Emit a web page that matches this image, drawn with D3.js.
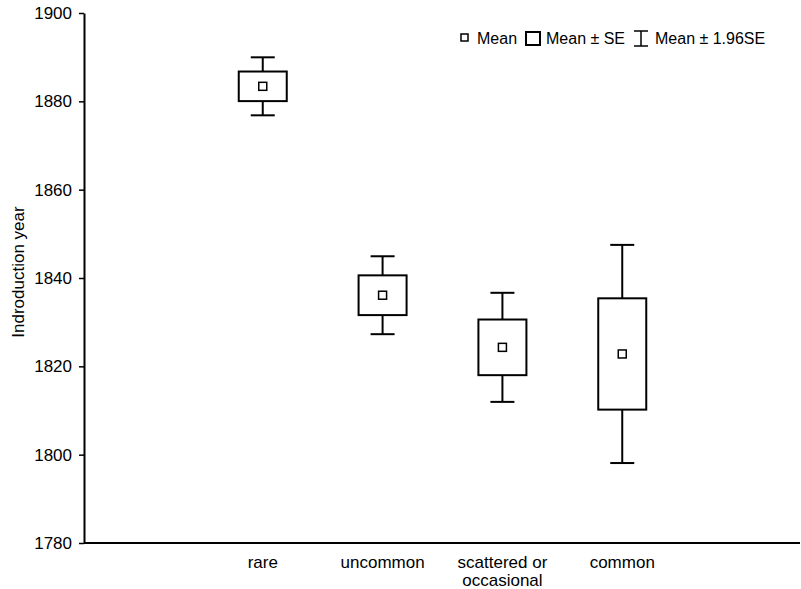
<!DOCTYPE html>
<html>
<head>
	<meta charset="utf-8">
	<script src="https://d3js.org/d3.v7.min.js"></script>
	<style type="text/css">
		body {
			margin: 0;
			background: #fff;
		}
		svg text {
			font-family: "Liberation Sans", Arial, sans-serif;
			font-size: 17px;
			fill: #000;
		}
	</style>
</head>
<body>
<script>
    // Data
    var categories = ["rare", "uncommon", "scattered or|occasional", "common"];
    var means = [1883.4, 1836.1, 1824.3, 1822.8];
    var se = [3.35, 4.5, 6.3, 12.6];
    var yTicks = [1780, 1800, 1820, 1840, 1860, 1880, 1900];

    var width = 801, height = 589;
    var x0 = 84, x1 = 800, yTop = 13, yBot = 543;

    var svg = d3.select("body").append("svg")
        .attr("width", width)
        .attr("height", height);

    var y = d3.scaleLinear().domain([1780, 1900]).range([yBot, yTop]);

    // categories sit at about 263, 382, 502, 622
    var x = d3.scaleLinear().domain([-1.5, 4.5]).range([x0 - 1, x0 + 718]);

    // y axis
    var yAxis = d3.axisLeft(y).tickValues(yTicks).tickSize(5).tickSizeOuter(0).tickPadding(7)
        .tickFormat(d3.format("d"));
    var gy = svg.append("g").attr("transform", "translate(" + x0 + ",0)").call(yAxis);
    gy.select(".domain").attr("stroke", "#000").attr("stroke-width", 2);
    gy.selectAll(".tick line").attr("stroke", "#000").attr("stroke-width", 1.5);
    gy.selectAll(".tick text").style("font-size", "17px").attr("font-family", null);

    // x axis line (no ticks)
    svg.append("line")
        .attr("x1", x0).attr("x2", x1)
        .attr("y1", yBot).attr("y2", yBot)
        .attr("stroke", "#000").attr("stroke-width", 2);

    // category labels
    categories.forEach(function(c, i) {
        var t = svg.append("text")
            .attr("text-anchor", "middle")
            .attr("x", x(i))
            .attr("y", 568);
        c.split("|").forEach(function(line, j) {
            t.append("tspan").attr("x", x(i)).attr("dy", j === 0 ? 0 : 18).text(line);
        });
    });

    // y axis title
    svg.append("text")
        .attr("transform", "translate(24,272) rotate(-90)")
        .attr("text-anchor", "middle")
        .text("Indroduction year");

    var boxW = 48, capW = 24, mk = 8;

    var g = svg.selectAll("g.cat")
        .data(means)
        .enter().append("g")
        .attr("class", "cat");

    // whiskers at mean ± 1.96 SE
    g.append("line")
        .attr("x1", function(d, i) { return x(i); })
        .attr("x2", function(d, i) { return x(i); })
        .attr("y1", function(d, i) { return y(d + 1.96 * se[i]); })
        .attr("y2", function(d, i) { return y(d - 1.96 * se[i]); })
        .attr("stroke", "#000").attr("stroke-width", 2);

    [1.96, -1.96].forEach(function(k) {
        g.append("line")
            .attr("x1", function(d, i) { return x(i) - capW / 2; })
            .attr("x2", function(d, i) { return x(i) + capW / 2; })
            .attr("y1", function(d, i) { return y(d + k * se[i]); })
            .attr("y2", function(d, i) { return y(d + k * se[i]); })
            .attr("stroke", "#000").attr("stroke-width", 2);
    });

    // box at mean ± SE
    g.append("rect")
        .attr("x", function(d, i) { return x(i) - boxW / 2; })
        .attr("y", function(d, i) { return y(d + se[i]); })
        .attr("width", boxW)
        .attr("height", function(d, i) { return y(d - se[i]) - y(d + se[i]); })
        .attr("fill", "#fff")
        .attr("stroke", "#000").attr("stroke-width", 2);

    // mean marker
    g.append("rect")
        .attr("x", function(d, i) { return x(i) - mk / 2; })
        .attr("y", function(d) { return y(d) - mk / 2; })
        .attr("width", mk).attr("height", mk)
        .attr("fill", "#fff")
        .attr("stroke", "#000").attr("stroke-width", 1.5);

    // legend
    var lg = svg.append("g").style("font-size", "16px");
    lg.append("rect").attr("x", 461).attr("y", 34).attr("width", 7).attr("height", 7)
        .attr("fill", "#fff").attr("stroke", "#000").attr("stroke-width", 1.5);
    lg.append("text").attr("x", 477).attr("y", 44).style("font-size", "16px").text("Mean");
    lg.append("rect").attr("x", 526).attr("y", 32).attr("width", 14).attr("height", 13)
        .attr("fill", "#fff").attr("stroke", "#000").attr("stroke-width", 2);
    lg.append("text").attr("x", 546).attr("y", 44).style("font-size", "16px").text("Mean \u00b1 SE");
    var ib = 641;
    lg.append("line").attr("x1", ib - 7).attr("x2", ib + 7).attr("y1", 31).attr("y2", 31)
        .attr("stroke", "#000").attr("stroke-width", 1.5);
    lg.append("line").attr("x1", ib - 7).attr("x2", ib + 7).attr("y1", 46).attr("y2", 46)
        .attr("stroke", "#000").attr("stroke-width", 1.5);
    lg.append("line").attr("x1", ib).attr("x2", ib).attr("y1", 31).attr("y2", 46)
        .attr("stroke", "#000").attr("stroke-width", 1.5);
    lg.append("text").attr("x", 655).attr("y", 44).style("font-size", "16px").text("Mean \u00b1 1.96SE");
</script>
</body>
</html>
